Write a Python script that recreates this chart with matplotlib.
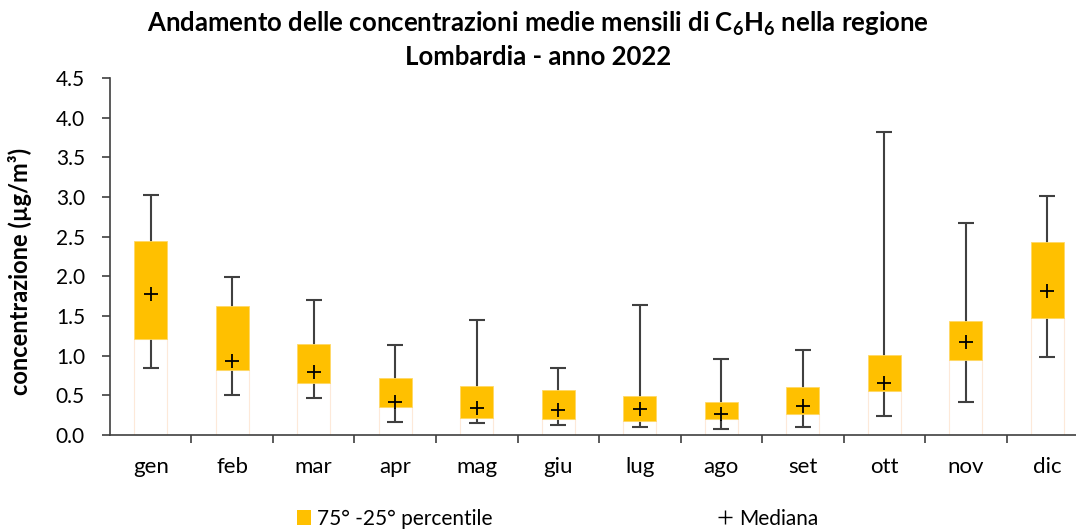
import matplotlib.pyplot as plt
from matplotlib.patches import Patch
from matplotlib.lines import Line2D
import numpy as np

plt.rcParams["font.family"] = ["Lato", "DejaVu Sans"]
plt.rcParams["mathtext.fontset"] = "custom"
plt.rcParams["mathtext.rm"] = "Lato:bold"
plt.rcParams["mathtext.default"] = "rm"

# monthly C6H6 statistics (ug/m3)
mesi = ["gen", "feb", "mar", "apr", "mag", "giu", "lug", "ago", "set", "ott", "nov", "dic"]
minimo = [0.85, 0.50, 0.47, 0.17, 0.155, 0.12, 0.10, 0.07, 0.10, 0.24, 0.42, 0.98]
perc25 = [1.21, 0.82, 0.65, 0.35, 0.21, 0.20, 0.18, 0.20, 0.27, 0.55, 0.94, 1.47]
mediana = [1.78, 0.93, 0.79, 0.41, 0.34, 0.31, 0.33, 0.26, 0.365, 0.66, 1.17, 1.82]
perc75 = [2.44, 1.63, 1.15, 0.72, 0.62, 0.57, 0.49, 0.42, 0.61, 1.01, 1.44, 2.43]
massimo = [3.02, 1.99, 1.70, 1.13, 1.45, 0.84, 1.64, 0.96, 1.07, 3.82, 2.67, 3.01]

x = np.arange(len(mesi))
lo = np.array(perc25)
hi = np.array(perc75)
med = np.array(mediana)

fig = plt.figure(figsize=(10.76, 5.32), dpi=100)
ax = fig.add_axes([0.1022, 0.1823, 0.909, 0.671])

# invisible lower part of the stacked bar
ax.bar(x, lo, width=0.4, color="white", edgecolor="#fde9d9", linewidth=0.8, zorder=1)
# whiskers min-max
ax.errorbar(x, med, yerr=[med - np.array(minimo), np.array(massimo) - med],
            fmt="none", ecolor="#404040", elinewidth=1.5, capsize=5.5, capthick=1.5, zorder=2)
ax.bar(x, hi - lo, bottom=lo, width=0.4, color="#ffc000", edgecolor="#ffd966", linewidth=0.6, zorder=3)
ax.plot(x, med, linestyle="none", marker="+", markersize=10, mew=1.3, color="black", zorder=4)

ax.set_xlim(-0.5, 11.5)
ax.set_ylim(0, 4.5)
yt = np.arange(0, 4.51, 0.5)
ax.set_yticks(yt)
ax.set_yticklabels([f"{v:.1f}" for v in yt], fontsize=15)
ax.set_xticks(x)
ax.set_xticklabels(mesi, fontsize=16)
ax.set_xticks(np.arange(0.5, 11, 1), minor=True)
ax.tick_params(axis="x", which="major", length=0, pad=16)
ax.tick_params(axis="x", which="minor", length=6, width=1.2, color="#404040")
ax.tick_params(axis="y", length=6, width=1.2, color="#404040", pad=12)
for s in ["top", "right"]:
    ax.spines[s].set_visible(False)
for s in ["left", "bottom"]:
    ax.spines[s].set_color("#404040")
    ax.spines[s].set_linewidth(1.2)

ax.set_ylabel("concentrazione (µg/m³)", fontsize=17, fontweight="bold")
ax.yaxis.set_label_coords(-0.08, 0.457)

fig.text(0.5, 0.955, "Andamento delle concentrazioni medie mensili di C$_6$H$_6$ nella regione",
         ha="center", va="center", fontsize=18.5, fontweight="bold")
fig.text(0.5, 0.893, "Lombardia - anno 2022", ha="center", va="center", fontsize=18.5, fontweight="bold")

handles = [Patch(facecolor="#ffc000", edgecolor="none"),
           Line2D([], [], linestyle="none", marker="+", color="black", markersize=10, mew=1)]
fig.legend(handles, ["75° -25° percentile", "Mediana"], loc="center", bbox_to_anchor=(0.518, 0.025),
           ncol=2, frameon=False, fontsize=15, columnspacing=10.8, handlelength=0.7, handletextpad=0.3)

fig.savefig("out.png", dpi=100)
